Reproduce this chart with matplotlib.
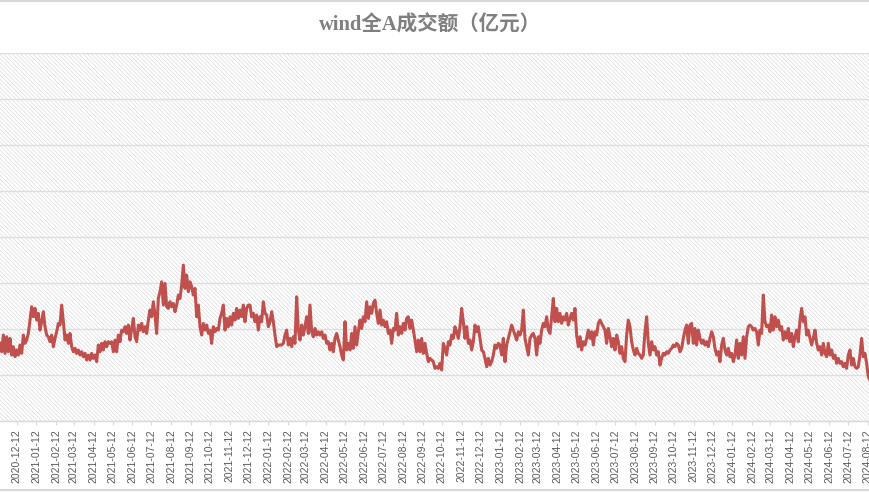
import matplotlib
matplotlib.use("Agg")
import matplotlib.pyplot as plt
import matplotlib.dates as mdates
from matplotlib.patches import Rectangle
from matplotlib.lines import Line2D
import numpy as np
import pandas as pd

TITLE = "wind全A成交额（亿元）"
START_DATE = "2020-11-15 18:00"
END_DATE = "2024-08-15 12:00"

seg1 = [8440,7530,9340,7350,9160,7530,8980,7170,8080,6990,7720,7170,8260,7350,9340,8440,8800,9520,10970,12420,
        11330,12240,10970,11700,9880,10790,11880,10250,9340,9160,8620,9340,8080,8980,9700,10610,10430,12600,10790,8800,
        9340,8440,9520,8080,7530,7900,7350,7720,7170,7530,6990,7350,6630,7170,6630,7350,6810,7170,6450,8260,
        7530,8440,7720,8620,8080,8620,8440,8620,7530,8800,7530,9340,8620,9880,9700]
seg2 = [10250,9520,10430,8800,10060,11150,9160,8620,10430,9880,10610,9700,10250,9520,10970,12060,11330,12960,11520,9520,
        13320,14050,15130,12600,14950,12420,12240,12960,12420,12780,11880,12600,13690,13320,14770,16940,14410,15860,14050,15130,
        14590,13690,14410,11330,12600,10250,9340,10610,9880,10430,9520,9880,8440,10250,9700,10060,9880,11150,11700,12600,
        9880,11150,10250,11330,10430,11700,10970,12240,11150,12060,11330,12600,10790,12240,12600]
seg3 = [12600,11330,11700,10790,11520,9880,11330,10790,12960,11700,11520,10250,10790,11880,10790,9340,8080,8260,8260,8260,
        8440,9340,9880,8260,8980,8080,9160,8440,13500,9880,8800,10430,9340,10250,11330,9520,12600,9700,9160,10060,
        9340,9700,9340,9700,8980,9340,8440,8620,7720,8440,7530,8980,9520,8800,8080,7170,6630,10790,7720,8440,
        7720,9520,7900,10250,8260,9700,10970,10060,11330,10790,12960,11150,12420,11700,12780]
seg4 = [13140,11700,10610,12060,10430,10970,10250,10790,9520,9880,8440,10060,9880,11700,9340,10250,9520,10610,9880,11150,
        11330,10060,10970,9880,8800,7530,8800,7530,8980,7350,8440,7350,6450,6810,6630,6450,5720,5900,5720,6270,
        5540,8440,7900,7170,8620,8260,9340,8980,10250,9700,8980,10250,12240,10790,8980,10250,8440,8800,7720,8620,
        10430,9700,10250,8980,7720,7530,6810,5900,6810,6080,6450,7170,8260,7900,8440]
seg5 = [8260,7170,8980,6450,8260,8980,9700,10430,9880,9340,8800,9700,9340,9880,12060,8980,8080,7170,8980,9340,
        9520,8980,7170,9160,8440,9880,10610,10250,11330,9880,9520,11330,13320,10790,12240,10790,11700,10610,11330,10970,
        11700,10430,11150,11700,10970,12240,9340,8080,9160,7720,8620,8260,8980,9880,8980,9700,8260,9700,9340,10610,
        10970,10610,10250,9880,8440,10060,9160,8080,8980,7720,9340,8620,7350,8080,6810]
seg6 = [6450,9340,10970,10250,8620,7720,7170,7900,7350,7170,6810,7170,9700,11330,8440,7170,8620,7720,8080,7170,
        7530,6080,6810,7350,7170,7530,7350,7720,7900,8260,8080,8440,8260,7530,7900,8980,9880,10430,8440,10430,
        10610,8440,10060,8260,9880,8980,8440,8800,8260,8620,8080,8980,9700,9160,7900,7170,7530,6450,8260,8980,
        7720,7170,7900,6990,7350,6450,7170,8800,6810,8440,7170,9160,6810,9160,10250]
seg7 = [10430,10250,9880,10060,9700,8260,9880,9520,13690,10790,10250,10430,9700,11520,9880,11330,10250,10970,9880,10250,
        8800,9700,8980,10060,8620,9520,8080,9160,9880,8620,10970,12240,10790,11330,9340,9880,8980,8260,8980,9880,
        8440,7720,8080,7170,8440,7350,6990,8440,7170,7720,6810,7170,6270,6810,6270,6450,5900,6270,5720,7170,
        7720,6080,6810,5900,5720,5900,7170,8980,6990,7350,6270,4810,4450]

values = np.array(seg1 + seg2 + seg3 + seg4 + seg5 + seg6 + seg7, dtype=float)
dates = pd.date_range(START_DATE, END_DATE, periods=len(values))

Y_MAX = 40000
Y_STEP = 5000

plt.rcParams['hatch.linewidth'] = 0.5

fig = plt.figure(figsize=(8.7, 4.92), dpi=100)
fig.patch.set_facecolor('white')
ax = fig.add_axes([-0.05, 71/492, 1.1, 368/492])
ax.set_facecolor('none')

bg = Rectangle((0, 0), 1, 1, transform=ax.transAxes, facecolor='white',
               edgecolor='#dcdcdc', hatch='\\' * 8, lw=0, zorder=0.1)
ax.add_patch(bg)

ax.plot(dates, values, color='#C0504D', lw=2.2, zorder=3, solid_joinstyle='round')

ax.set_ylim(0, Y_MAX)
ax.set_yticks(np.arange(0, Y_MAX + 1, Y_STEP))
ax.yaxis.grid(True, color='#dedede', lw=1.0, zorder=0.5)
ax.set_axisbelow(True)
ax.tick_params(axis='y', left=False, labelleft=False)

x0 = mdates.date2num(pd.Timestamp("2020-09-08 07:00"))
ax.set_xlim(x0, x0 + 1505.7)
ax.xaxis.set_major_locator(mdates.MonthLocator(bymonthday=12))
ax.xaxis.set_major_formatter(mdates.DateFormatter('%Y-%m-%d'))
ax.tick_params(axis='x', length=3, width=0.8, color='#d9d9d9', pad=3,
               labelsize=7.5, labelcolor='#595959', labelrotation=90)
for t in ax.get_xticklabels():
    t.set_fontfamily('Liberation Sans')

for s in ['left', 'right', 'top']:
    ax.spines[s].set_visible(False)
ax.spines['bottom'].set_color('#d9d9d9')
ax.spines['bottom'].set_linewidth(1.0)

fig.text(0.4943, 1 - 25/492, TITLE, ha='center', va='center', fontsize=14.8, fontweight='bold',
         color='#7f7f7f', family=['Liberation Serif', 'Noto Sans CJK SC'])

fig.add_artist(Line2D([0, 1], [1 - 1/492, 1 - 1/492], transform=fig.transFigure, color='#d9d9d9', lw=1.5))
fig.add_artist(Line2D([0, 1], [1 - 490/492, 1 - 490/492], transform=fig.transFigure, color='#d9d9d9', lw=1.5))

fig.savefig('out.png', dpi=100, facecolor='white')
